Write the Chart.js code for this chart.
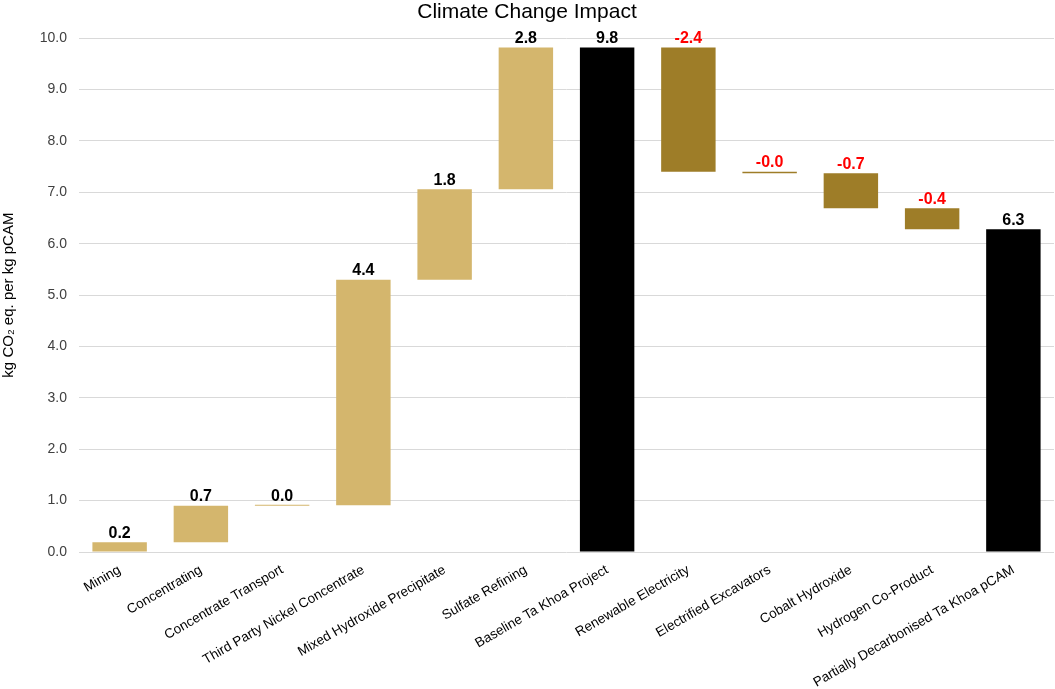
<!DOCTYPE html>
<html>
<head>
<meta charset="utf-8">
<script src="https://cdn.jsdelivr.net/npm/chart.js@4"></script>
<style>
  html, body { margin: 0; padding: 0; background: #fff; }
  #wrap { width: 1055px; height: 689px; }
</style>
</head>
<body>
<div id="wrap"><canvas id="chart"></canvas></div>
<script>
// categories and step values (kg CO2 eq. per kg pCAM)
const categories = [
    'Mining', 'Concentrating', 'Concentrate Transport', 'Third Party Nickel Concentrate',
    'Mixed Hydroxide Precipitate', 'Sulfate Refining', 'Baseline Ta Khoa Project',
    'Renewable Electricity', 'Electrified Excavators', 'Cobalt Hydroxide',
    'Hydrogen Co-Product', 'Partially Decarbonised Ta Khoa pCAM'
];
const deltas = [0.19, 0.71, 0.01, 4.39, 1.76, 2.76, 0, -2.42, -0.03, -0.68, -0.41, 0];
// which bars are totals (drawn from zero)
const isTotal = [false, false, false, false, false, false, true, false, false, false, false, true];
const yTicks = [0, 1, 2, 3, 4, 5, 6, 7, 8, 9, 10];

// cumulative floating ranges
let running = 0;
const ranges = [];
const labelValues = [];
const colors = [];
deltas.forEach((d, i) => {
    if (isTotal[i]) {
        ranges.push([0, running]);
        labelValues.push(running);
        colors.push('#000000');
    } else {
        ranges.push([running, running + d]);
        labelValues.push(d);
        running += d;
        colors.push(d < 0 ? '#9E7D28' : '#D4B66D');
    }
});

const FONT = '"Liberation Sans", Arial, sans-serif';

const valueLabels = {
    id: 'valueLabels',
    afterDatasetsDraw(chart) {
        const ctx = chart.ctx;
        const meta = chart.getDatasetMeta(0);
        const yScale = chart.scales.y;
        ctx.save();
        ctx.font = 'bold 16px ' + FONT;
        ctx.textAlign = 'center';
        ctx.textBaseline = 'bottom';
        meta.data.forEach((bar, i) => {
            const top = Math.max(ranges[i][0], ranges[i][1]);
            const v = labelValues[i];
            ctx.fillStyle = v < 0 ? '#FF0000' : '#000000';
            ctx.fillText(v.toFixed(1), bar.x, yScale.getPixelForValue(top) - 1);
        });
        ctx.restore();
    }
};

new Chart(document.getElementById('chart'), {
    type: 'bar',
    data: {
        labels: categories,
        datasets: [{
            data: ranges,
            backgroundColor: colors,
            borderWidth: 0,
            borderSkipped: false,
            categoryPercentage: 1.0,
            barPercentage: 0.67,
            minBarLength: 1
        }]
    },
    options: {
        responsive: true,
        maintainAspectRatio: false,
        animation: false,
        layout: { padding: { left: 0, right: 1, top: 0, bottom: 0 } },
        scales: {
            y: {
                min: 0,
                max: 10,
                afterBuildTicks: axis => { axis.ticks = yTicks.map(v => ({ value: v })); },
                afterFit: axis => { axis.width = 79; },
                grid: { color: '#d9d9d9', drawTicks: false },
                border: { display: false },
                ticks: {
                    color: '#404040',
                    padding: 12,
                    font: { family: FONT, size: 14 },
                    callback: v => Number(v).toFixed(1)
                },
                title: {
                    display: true,
                    text: 'kg CO₂ eq. per kg pCAM',
                    color: '#000000',
                    padding: { top: 0, bottom: 0 },
                    font: { family: FONT, size: 15 }
                }
            },
            x: {
                afterFit: axis => { axis.height = 137; },
                grid: { display: false },
                border: { display: false },
                ticks: {
                    color: '#000000',
                    maxRotation: 30,
                    minRotation: 30,
                    padding: 2,
                    autoSkip: false,
                    font: { family: FONT, size: 13.5 }
                }
            }
        },
        plugins: {
            legend: { display: false },
            tooltip: { enabled: false },
            title: {
                display: true,
                text: 'Climate Change Impact',
                color: '#000000',
                padding: { top: 0, bottom: 13 },
                font: { family: FONT, size: 21, weight: 'normal' }
            }
        }
    },
    plugins: [valueLabels]
});
</script>
</body>
</html>
